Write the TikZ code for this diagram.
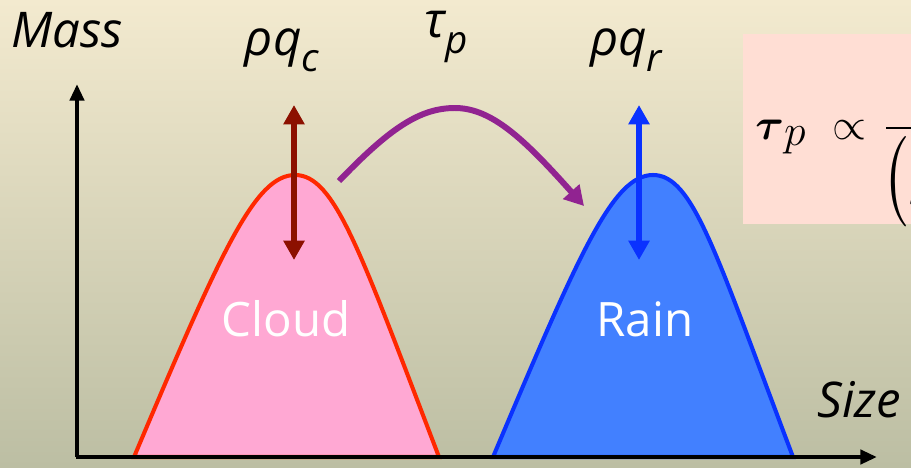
\documentclass[tikz,border=0pt]{standalone}
\usepackage{amsmath,amssymb}
\usepackage{fontspec}
\setmainfont{Open Sans}
\usepackage{tikz}
\usetikzlibrary{arrows.meta,calc,positioning}
\definecolor{bgtop}{RGB}{243,234,207}
\definecolor{bgmid}{RGB}{216,213,186}
\definecolor{bgbot}{RGB}{188,190,163}
\definecolor{cloudfill}{RGB}{255,168,211}
\definecolor{cloudline}{RGB}{255,40,0}
\definecolor{rainfill}{RGB}{66,128,255}
\definecolor{rainline}{RGB}{10,50,255}
\definecolor{cloudarrow}{RGB}{140,16,0}
\definecolor{transfer}{RGB}{145,35,145}
\definecolor{formulabox}{RGB}{255,222,212}
\newcommand{\lowsub}[1]{\raisebox{-0.33em}{\fontsize{22}{22}\selectfont #1}}
\tikzset{
  axis/.style={black, line width=2.8pt, -{Triangle[length=9.5pt,width=8pt]}},
  cloudshape/.style={draw=cloudline, fill=cloudfill, line width=2.3pt},
  rainshape/.style={draw=rainline, fill=rainfill, line width=2.3pt},
  amount/.style={line width=3.6pt,
                 {Triangle[length=11pt,width=11.5pt]}-{Triangle[length=11pt,width=11.5pt]}},
  flow/.style={transfer, line width=3.4pt, -{Triangle[length=11pt,width=12pt]}},
  axislab/.style={font=\fontsize{28}{30}\selectfont\itshape, inner sep=0pt},
  sizelab/.style={font=\fontsize{28}{30}\selectfont\itshape, inner sep=0pt, anchor=base},
  binlab/.style={font=\fontsize{27}{30}\selectfont, text=white, inner sep=0pt, anchor=base},
}

\begin{document}
\begin{tikzpicture}[x=0.02cm,y=-0.02cm]
  \useasboundingbox (0,0) rectangle (911,467);
  \shade[top color=bgtop, middle color=bgmid, bottom color=bgbot]
    (0,0) rectangle (911,467);

  % formula box, cut at the right edge
  \node[fill=formulabox, minimum width=3.7cm, minimum height=3.8cm,
        anchor=north west, inner sep=0pt] (fbox) at (743,34) {};
  \node[anchor=base west, inner sep=0pt, font=\fontsize{33}{36}\selectfont]
    (formula) at (755,139)
    {$\boldsymbol{\tau}_p \hspace{8pt}\propto\hspace{3pt}
      \dfrac{}{\lower1pt\hbox{\kern-2pt\scalebox{1}[1.3]{$\bigl($}$\rho$}}$};

  % size distributions
  \draw[cloudshape] (134,457) .. controls (221,251) and (255,175) .. (295,175)
    .. controls (335,175) and (360,251) .. (439,457) -- cycle;
  \draw[rainshape] (493,457) .. controls (580,251) and (613,175) .. (653,175)
    .. controls (693,175) and (715,251) .. (793,457) -- cycle;

  % axes
  \coordinate (origin) at (77,457);
  \coordinate (ytip) at (77,84);
  \coordinate (xtip) at (877,457);
  \draw[axis] ($(origin)+(0,0)$) -- (ytip);
  \draw[axis] ($(origin)+(-1.4,0)$) -- (xtip);
  \node[axislab, anchor=base] (mass) at (67,47) {Mass};
  \node[axislab, anchor=base west] (size) at (817,417) {Size};

  \node[binlab] (cloud) at (286,336) {Cloud};
  \node[binlab] (rain) at (645,336) {Rain};

  % mixing ratios and transfer
  \node[sizelab] (qc) at (282,55) {ρq\lowsub{c}};
  \node[sizelab] (qr) at (626,55) {ρq\lowsub{r}};
  \node[sizelab] (tau) at (446,37) {τ\lowsub{p}};

  \coordinate (qctop) at (294,105);
  \coordinate (qcbot) at (294,260);
  \coordinate (qrtop) at (639,105);
  \coordinate (qrbot) at (639,260);
  \draw[amount, cloudarrow] (qcbot) -- (qctop);
  \draw[amount, rainline] (qrbot) -- (qrtop);

  \coordinate (from) at (339,181);
  \coordinate (to) at (584,206);
  \draw[flow] (from) .. controls (390,128) and (420,108) .. (455,108)
    .. controls (492,108) and (525,140) .. (to);
\end{tikzpicture}
\end{document}
